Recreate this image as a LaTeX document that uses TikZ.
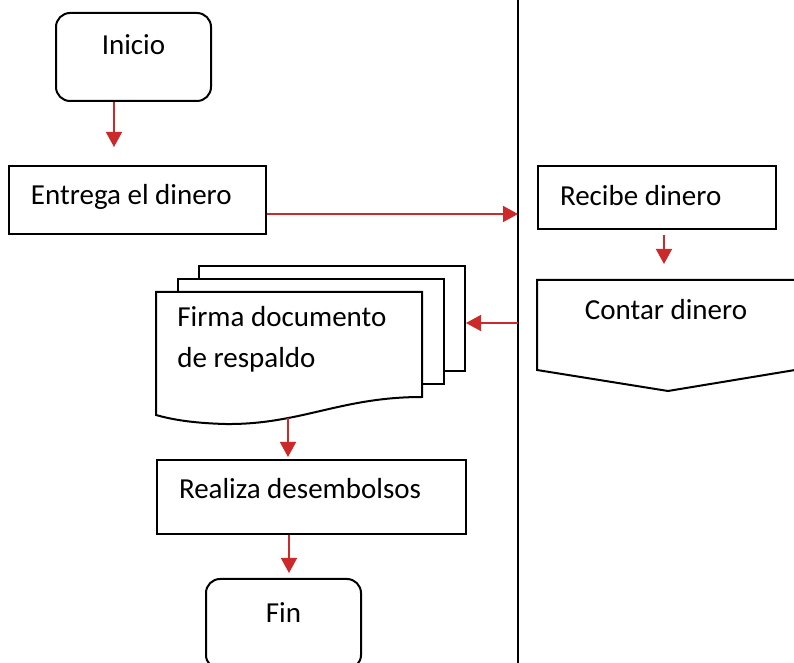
\documentclass[tikz,border=0pt]{standalone}
\usepackage{fontspec}
\setmainfont{Carlito}
\usetikzlibrary{arrows.meta}
\definecolor{flujoRojo}{RGB}{204,42,42}
\begin{document}
\begin{tikzpicture}[x=0.5pt,y=-0.5pt,
  caja/.style={draw, line width=1pt, rectangle, anchor=north west, inner ysep=0pt, inner xsep=11pt, align=flush left},
  terminal/.style={caja, rounded corners=7pt, inner xsep=0pt, align=flush center},
  hoja/.style={draw, line width=1pt, fill=white, rectangle, anchor=north west, minimum width=133pt, minimum height=52.5pt, inner sep=0pt},
  flujo/.style={draw=flujoRojo, line width=0.8pt, -{Triangle[width=8pt,length=7.5pt]}}]
\fontsize{14.5}{20.5}\selectfont
\useasboundingbox (0,0) rectangle (794,663);
\clip (0,0) rectangle (794,663);

\coordinate (laneTop) at (518,0);
\coordinate (laneBot) at (518,663);
\draw[line width=1pt] (laneTop) -- (laneBot);

\node[terminal, text width=77.5pt, text height=21pt, text depth=23pt](inicio) at (55,12) {Inicio};
\node[caja, text width=106.5pt, text height=19.5pt, text depth=14.5pt](entrega) at (8,165) {Entrega el dinero};
\node[caja, text width=97pt, text height=20pt, text depth=11.5pt](recibe) at (537,165) {Recibe dinero};

\node[caja, draw=none, inner xsep=0pt, text width=128pt, text height=20pt, text depth=24pt](contar) at (537,280) {};
\coordinate (contarPunta) at (668,391);
\draw[line width=1pt] (contar.north west) -- (contar.north east) -- (contar.south east) -- (contarPunta) -- (contar.south west) -- cycle;
\node[anchor=base, inner sep=0pt](contarTxt) at (666,320) {Contar dinero};

\node[hoja](hojaC) at (198,265) {};
\node[hoja](hojaB) at (177,278) {};
\draw[line width=1pt, fill=white] (156,292) -- (422,292) -- (422,397) .. controls (340,397) and (300,425) .. (225,424) .. controls (190,423) and (170,419) .. (156,415) -- cycle;
\node[anchor=base west, inner sep=0pt, align=flush left](firma) at (177,368) {Firma documento\\de respaldo};
\coordinate (firmaBase) at (288,418);

\node[caja, text width=132.5pt, text height=19.5pt, text depth=17.5pt](realiza) at (156,459) {Realiza desembolsos};
\node[terminal, text width=77.5pt, text height=22pt, text depth=23pt](fin) at (205,578) {Fin};

\draw[flujo, shorten >=9pt] ([xshift=-9.75pt]inicio.south) -- ([xshift=-9.75pt]inicio.south |- entrega.north);
\draw[flujo] ([yshift=-7pt]entrega.east) -- ([yshift=-7pt]entrega.east -| laneTop);
\draw[flujo, shorten <=2.5pt, shorten >=8pt] ([xshift=3.5pt]recibe.south) -- ([xshift=3.5pt]recibe.south |- contar.north);
\draw[flujo] ([yshift=-2.25pt]hojaC.east -| laneTop) -- ([yshift=-2.25pt]hojaC.east);
\draw[flujo, shorten >=1pt] (firmaBase) -- (firmaBase |- realiza.north);
\draw[flujo, shorten >=2.5pt] ([xshift=-11.25pt]realiza.south) -- ([xshift=-11.25pt]realiza.south |- fin.north);
\end{tikzpicture}
\end{document}
